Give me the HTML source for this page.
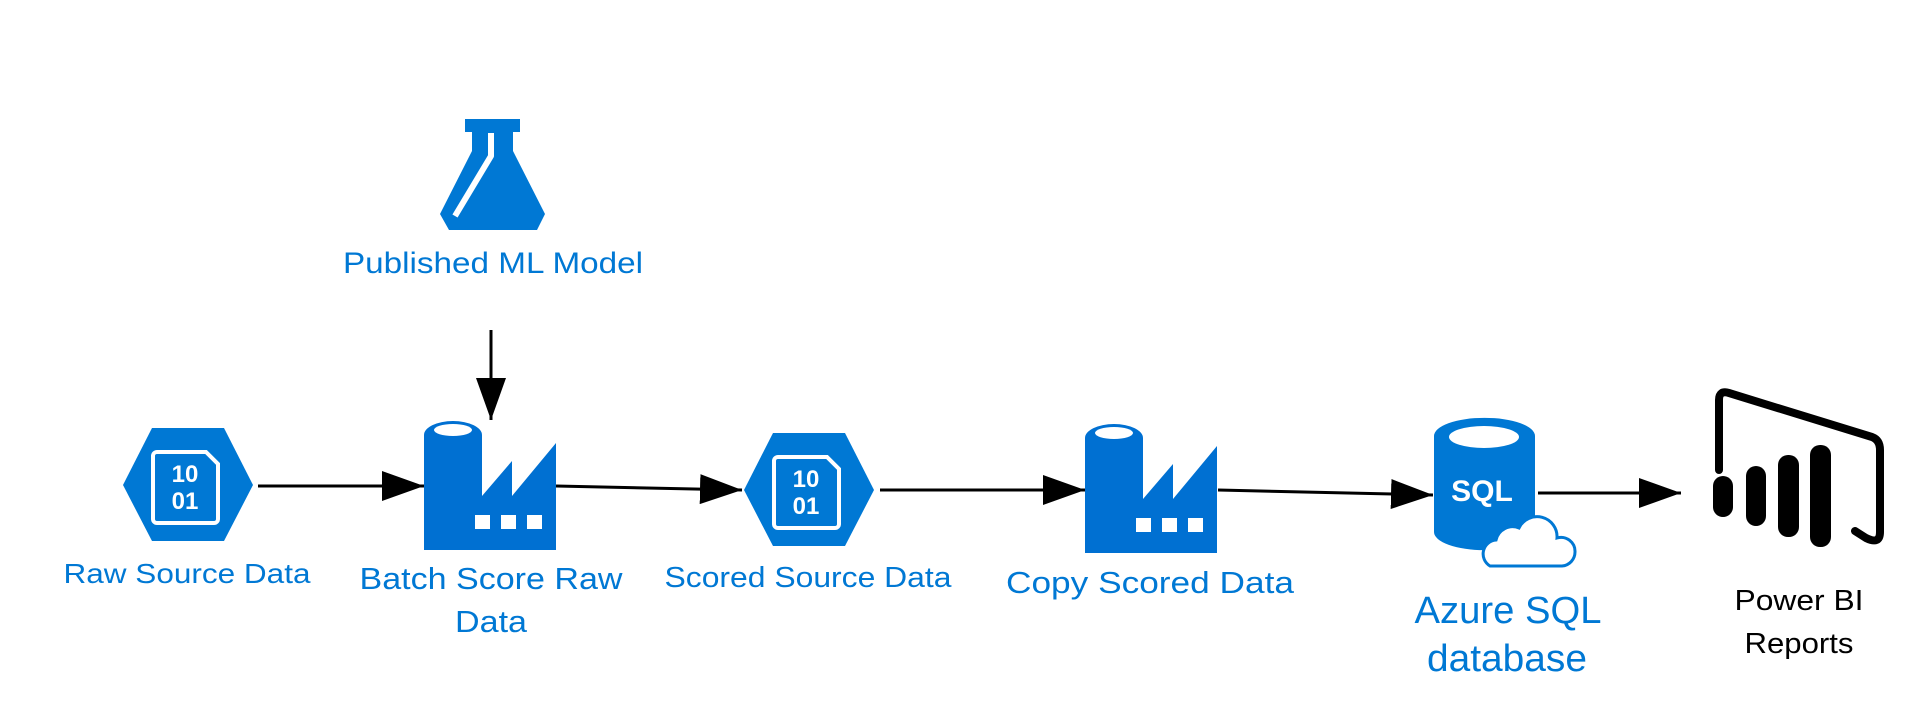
<!DOCTYPE html>
<html><head><meta charset="utf-8"><style>html,body{margin:0;padding:0;background:#fff}svg{display:block}</style></head>
<body>
<svg width="1929" height="716" viewBox="0 0 1929 716" xmlns="http://www.w3.org/2000/svg" font-family="'Liberation Sans', sans-serif">
<defs>
<marker id="ah" markerWidth="42" markerHeight="30" refX="42" refY="15" orient="auto" markerUnits="userSpaceOnUse" viewBox="0 0 42 30">
<path d="M0,0 L42,15 L0,30 Z" fill="#000"/>
</marker>
<g id="hex">
<polygon points="0,57 29,0 101,0 130,57 101,113 29,113" fill="#0078d4"/>
<path d="M34,24 h49 l12,12 v55 a4,4 0 0 1 -4,4 h-57 a4,4 0 0 1 -4,-4 v-63 a4,4 0 0 1 4,-4 z" fill="none" stroke="#fff" stroke-width="4"/>
<text x="62" y="54" fill="#fff" font-size="24" font-weight="bold" text-anchor="middle">10</text>
<text x="62" y="81" fill="#fff" font-size="24" font-weight="bold" text-anchor="middle">01</text>
</g>
<g id="fac">
<path d="M0,14 a29,14 0 0 1 58,0 V75 L88,40 V75 L132,22 V129 H0 Z" fill="#0070d2"/>
<ellipse cx="29" cy="9" rx="19" ry="6" fill="#fff"/>
<rect x="51" y="94" width="15" height="14" fill="#fff"/>
<rect x="77" y="94" width="15" height="14" fill="#fff"/>
<rect x="103" y="94" width="15" height="14" fill="#fff"/>
</g>
</defs>

<rect x="465" y="119" width="55" height="13" fill="#0078d4"/>
<path d="M472,131 H513 V151 L545,214 L537,230 H449 L440,214 L472,151 Z" fill="#0078d4"/>
<path d="M491,133 V156 L455,216" fill="none" stroke="#fff" stroke-width="6" stroke-linejoin="round"/>
<text x="493" y="273" fill="#0078d4" font-size="30" text-anchor="middle" textLength="300" lengthAdjust="spacingAndGlyphs">Published ML Model</text>

<line x1="491" y1="330" x2="491" y2="420" stroke="#000" stroke-width="3" marker-end="url(#ah)"/>

<use href="#hex" x="123" y="428"/>
<use href="#hex" x="744" y="433"/>
<use href="#fac" x="424" y="421"/>
<use href="#fac" x="1085" y="424"/>

<line x1="258" y1="486" x2="424" y2="486" stroke="#000" stroke-width="3" marker-end="url(#ah)"/>
<line x1="556" y1="486" x2="742" y2="490" stroke="#000" stroke-width="3" marker-end="url(#ah)"/>
<line x1="880" y1="490" x2="1085" y2="490" stroke="#000" stroke-width="3" marker-end="url(#ah)"/>
<line x1="1218" y1="490" x2="1433" y2="495" stroke="#000" stroke-width="3" marker-end="url(#ah)"/>
<line x1="1538" y1="493" x2="1681" y2="493" stroke="#000" stroke-width="3" marker-end="url(#ah)"/>

<path d="M1434,436 a50,18 0 0 1 101,0 V532 a50,18 0 0 1 -101,0 Z" fill="#0078d4"/>
<ellipse cx="1484" cy="437" rx="35" ry="11" fill="#fff"/>
<text x="1482" y="501" fill="#fff" font-size="30" font-weight="bold" text-anchor="middle">SQL</text>
<path d="M1490,566 a14,14 0 0 1 6,-26 a17,17 0 0 1 23,-12 a20,20 0 0 1 38,10 a14,14 0 0 1 18,14 a14,14 0 0 1 -13,14 Z" fill="#fff" stroke="#0078d4" stroke-width="3"/>
<text x="1508" y="623" fill="#0078d4" font-size="38" text-anchor="middle" textLength="187" lengthAdjust="spacingAndGlyphs">Azure SQL</text>
<text x="1507" y="671" fill="#0078d4" font-size="38" text-anchor="middle" textLength="160" lengthAdjust="spacingAndGlyphs">database</text>

<path d="M1719,470 V400 Q1719,390 1729,393 L1872,437 Q1880,440 1880,450 V532 Q1880,545 1866,538 L1855,531" fill="none" stroke="#000" stroke-width="8" stroke-linecap="round" stroke-linejoin="round"/>
<rect x="1713" y="476" width="20" height="41" rx="10" fill="#000"/>
<rect x="1746" y="466" width="20" height="60" rx="10" fill="#000"/>
<rect x="1778" y="455" width="21" height="82" rx="10" fill="#000"/>
<rect x="1810" y="445" width="21" height="102" rx="10" fill="#000"/>
<text x="1799" y="610" fill="#000" font-size="29" text-anchor="middle" textLength="129" lengthAdjust="spacingAndGlyphs">Power BI</text>
<text x="1799" y="653" fill="#000" font-size="29" text-anchor="middle" textLength="109" lengthAdjust="spacingAndGlyphs">Reports</text>

<text x="187" y="583" fill="#0078d4" font-size="28" text-anchor="middle" textLength="247" lengthAdjust="spacingAndGlyphs">Raw Source Data</text>
<text x="491" y="589" fill="#0078d4" font-size="31" text-anchor="middle" textLength="263" lengthAdjust="spacingAndGlyphs">Batch Score Raw</text>
<text x="491" y="632" fill="#0078d4" font-size="31" text-anchor="middle" textLength="72" lengthAdjust="spacingAndGlyphs">Data</text>
<text x="808" y="587" fill="#0078d4" font-size="29" text-anchor="middle" textLength="287" lengthAdjust="spacingAndGlyphs">Scored Source Data</text>
<text x="1150" y="593" fill="#0078d4" font-size="31" text-anchor="middle" textLength="288" lengthAdjust="spacingAndGlyphs">Copy Scored Data</text>
</svg>
</body></html>
